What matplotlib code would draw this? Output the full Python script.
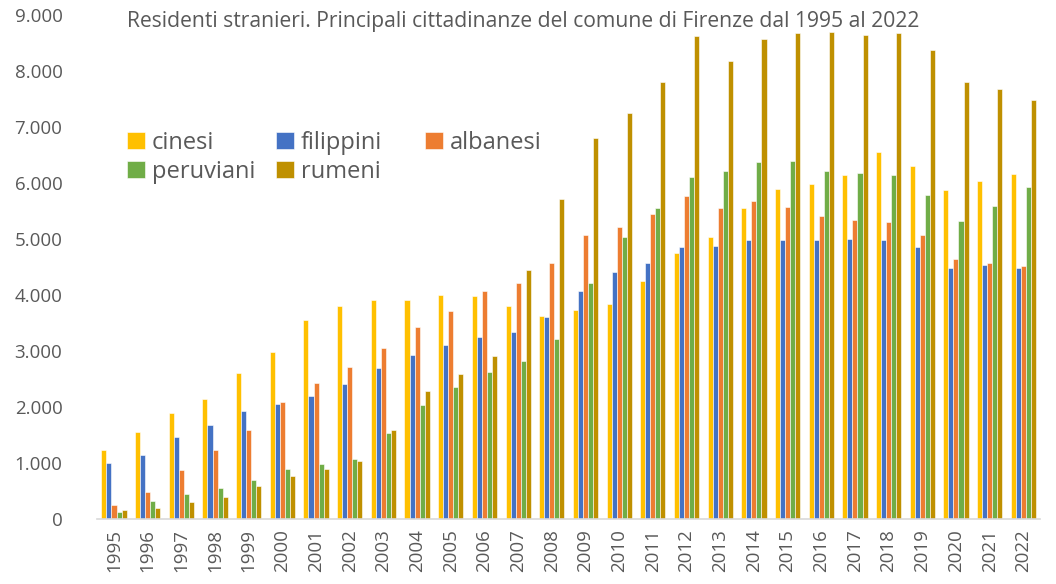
import matplotlib
matplotlib.use("Agg")
import matplotlib.pyplot as plt
import numpy as np
from matplotlib.ticker import FuncFormatter, MultipleLocator

plt.rcParams["font.family"] = ["Open Sans", "DejaVu Sans"]

years = list(range(1995, 2023))

cinesi = [1230, 1562, 1888, 2148, 2606, 2979, 3551, 3803, 3916, 3916,
          3996, 3983, 3803, 3630, 3737, 3843, 4255, 4754, 5040, 5552,
          5891, 5991, 6144, 6556, 6310, 5871, 6031, 6170]
filippini = [1010, 1144, 1476, 1676, 1928, 2048, 2207, 2414, 2706, 2926,
             3105, 3258, 3351, 3610, 4082, 4422, 4568, 4867, 4874, 4980,
             4993, 4987, 5000, 4987, 4860, 4488, 4535, 4488]
albanesi = [246, 479, 884, 1230, 1596, 2094, 2434, 2719, 3059, 3437,
            3710, 4076, 4222, 4568, 5080, 5226, 5452, 5765, 5565, 5685,
            5572, 5419, 5339, 5312, 5066, 4648, 4581, 4521]
peruviani = [120, 319, 452, 552, 705, 891, 984, 1077, 1536, 2041,
             2360, 2633, 2819, 3211, 4222, 5040, 5559, 6104, 6217, 6370,
             6390, 6223, 6177, 6150, 5791, 5319, 5585, 5937]
rumeni = [166, 200, 312, 399, 585, 765, 898, 1031, 1596, 2281,
          2600, 2919, 4448, 5725, 6809, 7247, 7799, 8624, 8178, 8577,
          8684, 8703, 8650, 8684, 8371, 7799, 7686, 7487]

series = [
    ("cinesi", cinesi, "#FFC000"),
    ("filippini", filippini, "#4472C4"),
    ("albanesi", albanesi, "#ED7D31"),
    ("peruviani", peruviani, "#70AD47"),
    ("rumeni", rumeni, "#BF9000"),
]

text_color = "#595959"

fig = plt.figure(figsize=(10.56, 5.84), dpi=100)
ax = fig.add_axes([0.092, 0.111, 0.893, 0.863])

x = np.arange(len(years))
width = 0.15
bars = []
for i, (label, values, color) in enumerate(series):
    bars.append(ax.bar(x + (i - 2) * width, values, width, color=color,
                       label=label, edgecolor="white", linewidth=0.4))

ax.set_xlim(-0.5, len(years) - 0.5)
ax.set_ylim(0, 9000)
ax.yaxis.set_major_locator(MultipleLocator(1000))
ax.yaxis.set_major_formatter(
    FuncFormatter(lambda v, _: f"{int(v):,}".replace(",", "."))
)
ax.set_xticks(x, [str(y) for y in years], rotation=90)

for side in ("top", "right", "left"):
    ax.spines[side].set_visible(False)
ax.spines["bottom"].set_color("#D9D9D9")
ax.spines["bottom"].set_linewidth(1.2)
ax.tick_params(axis="both", length=0, colors=text_color)
ax.tick_params(axis="y", labelsize=13.5, pad=25)
ax.tick_params(axis="x", labelsize=13.5, pad=7)

fig.text(0.12, 0.963, "Residenti stranieri. Principali cittadinanze del comune di "
         "Firenze dal 1995 al 2022", fontsize=15.2, color=text_color,
         va="center", ha="left")

# Excel-style legend: 3 equal-width columns, filled row by row
col_x = [0.1203, 0.2614, 0.4025]
for j, cx in enumerate(col_x):
    idx = [k for k in (j, j + 3) if k < len(series)]
    leg = ax.legend([bars[k] for k in idx], [series[k][0] for k in idx],
                    loc="upper left", bbox_to_anchor=(cx, 0.776),
                    bbox_transform=fig.transFigure, frameon=False,
                    fontsize=17, labelcolor=text_color, handlelength=0.75,
                    handleheight=0.75, handletextpad=0.3, labelspacing=0.2,
                    borderaxespad=0, borderpad=0)
    if j < len(col_x) - 1:
        ax.add_artist(leg)

fig.savefig("out.png", dpi=100)
